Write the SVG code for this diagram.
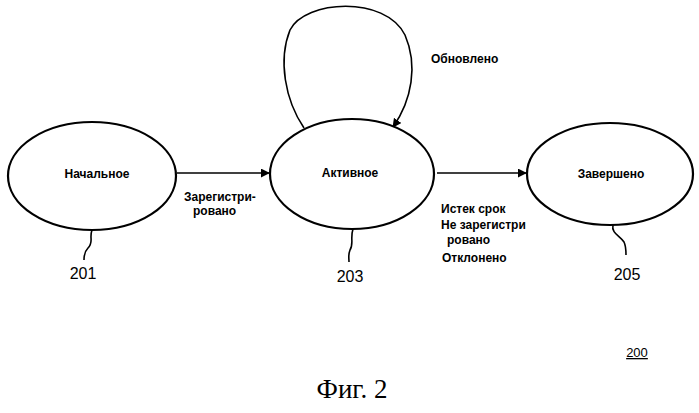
<svg xmlns="http://www.w3.org/2000/svg" width="699" height="413" viewBox="0 0 699 413">
<style>
.n{fill:#fff;stroke:#000;stroke-width:2.2}
.t{font-family:"Liberation Sans",Arial,sans-serif;font-weight:bold;font-size:12px}
.num{font-family:"Liberation Sans",Arial,sans-serif;font-size:16px}
.c{fill:none;stroke:#000;stroke-width:1.6}
</style>
<defs><marker id="a" viewBox="0 0 10 10" refX="9" refY="5" markerWidth="9" markerHeight="9" orient="auto" markerUnits="userSpaceOnUse"><path d="M0,0L10,5L0,10z"/></marker></defs>
<rect width="699" height="413" fill="#fff"/>
<g id="connectors">
<path class="c" d="M177,173H269" marker-end="url(#a)"/>
<path class="c" d="M437,173H526" marker-end="url(#a)"/>
<path class="c" d="M304,128C285,100 278,60 290,30C305,0 385,-5 405,35C418,65 412,100 393,127" marker-end="url(#a)"/>
<path class="c" d="M92,230C89,238 94,242 88,248C84,252 84,256 84,260"/>
<path class="c" d="M353,229C350,238 354,244 350,250C348,255 349,258 349,262"/>
<path class="c" d="M613,225C611,233 620,236 624,242C626,246 626,250 626,255"/>
</g>
<g id="n201"><ellipse class="n" cx="92" cy="176" rx="84" ry="54"/><text class="t" x="97" y="178" text-anchor="middle">Начальное</text><text class="num" x="83" y="279" text-anchor="middle">201</text></g>
<g id="n203"><ellipse class="n" cx="352" cy="174" rx="82" ry="55"/><text class="t" x="350" y="177" text-anchor="middle">Активное</text><text class="num" x="350" y="282" text-anchor="middle">203</text></g>
<g id="n205"><ellipse class="n" cx="610" cy="174" rx="83" ry="51"/><text class="t" x="611" y="178" text-anchor="middle">Завершено</text><text class="num" x="627" y="280" text-anchor="middle">205</text></g>
<g id="labels">
<text class="t" x="431" y="63">Обновлено</text>
<text class="t" x="184" y="201">Зарегистри-</text>
<text class="t" x="193" y="215">ровано</text>
<text class="t" x="441" y="213">Истек срок</text>
<text class="t" x="441" y="229">Не зарегистри</text>
<text class="t" x="447" y="244">ровано</text>
<text class="t" x="442" y="262">Отклонено</text>
<text x="352" y="398" text-anchor="middle" font-family="Liberation Serif,serif" font-size="27">Фиг. 2</text>
<text x="637" y="357" text-anchor="middle" font-family="Liberation Sans,sans-serif" font-size="13" text-decoration="underline">200</text>
</g>
</svg>
